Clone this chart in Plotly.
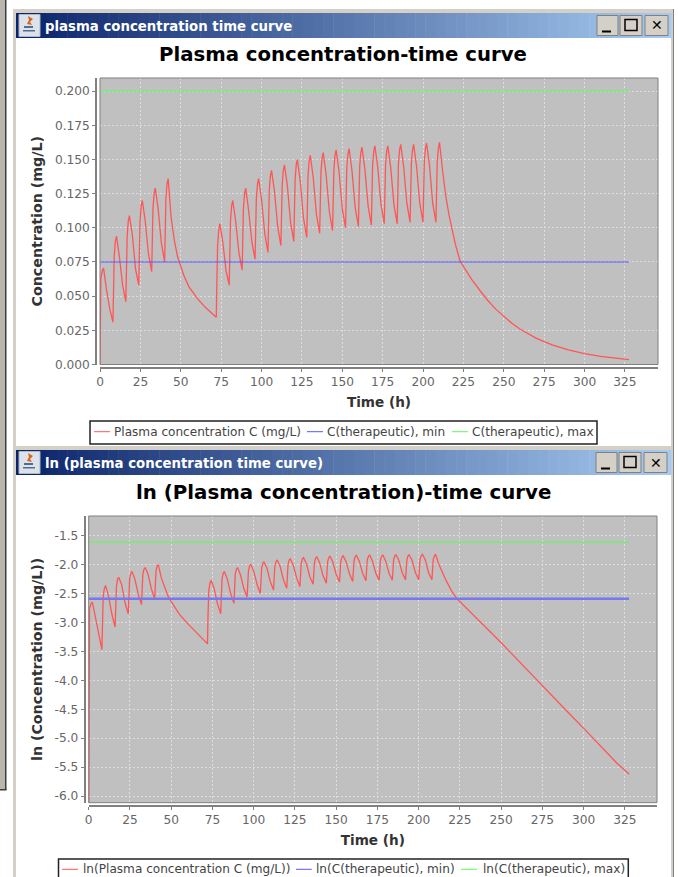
import plotly.graph_objects as go

# ---------- data ----------
time_h = [
    0, 0.1, 0.5, 1.5, 2.2, 4, 6,
    8, 8.3, 8.8, 9.5, 10.2, 12, 14,
    16, 16.3, 16.8, 17.5, 18.2, 20, 22,
    24, 24.3, 24.8, 25.5, 26.2, 28, 30,
    32, 32.3, 32.8, 33.5, 34.2, 36, 38,
    40, 40.3, 40.8, 41.5, 42.2, 44, 46,
    48, 50, 52, 55, 60, 65, 72,
    72.3, 72.8, 73.5, 74.2, 76, 78,
    80, 80.3, 80.8, 81.5, 82.2, 84, 86,
    88, 88.3, 88.8, 89.5, 90.2, 92, 94,
    96, 96.3, 96.8, 97.5, 98.2, 100, 102,
    104, 104.3, 104.8, 105.5, 106.2, 108, 110,
    112, 112.3, 112.8, 113.5, 114.2, 116, 118,
    120, 120.3, 120.8, 121.5, 122.2, 124, 126,
    128, 128.3, 128.8, 129.5, 130.2, 132, 134,
    136, 136.3, 136.8, 137.5, 138.2, 140, 142,
    144, 144.3, 144.8, 145.5, 146.2, 148, 150,
    152, 152.3, 152.8, 153.5, 154.2, 156, 158,
    160, 160.3, 160.8, 161.5, 162.2, 164, 166,
    168, 168.3, 168.8, 169.5, 170.2, 172, 174,
    176, 176.3, 176.8, 177.5, 178.2, 180, 182,
    184, 184.3, 184.8, 185.5, 186.2, 188, 190,
    192, 192.3, 192.8, 193.5, 194.2, 196, 198,
    200, 200.3, 200.8, 201.5, 202.2, 204, 206,
    208, 208.3, 208.8, 209.5, 210.2, 212, 214, 216, 218, 220, 223, 226, 230,
    235, 240, 245, 250, 255, 260, 265, 270, 275, 280, 290, 300, 310, 320, 327.5,
]
concentration = [
    0, .044, .063, .069, .0705, .055, .041,
    .031, .045, .079, .090, .094, .079, .058,
    .046, .065, .093, .105, .109, .095, .070,
    .058, .077, .105, .116, .120, .105, .081,
    .068, .086, .114, .125, .129, .114, .089,
    .075, .093, .121, .132, .136, .108, .091,
    .079, .0715, .065, .057, .0487, .042, .0345,
    .056, .087, .098, .103, .090, .069,
    .058, .077, .105, .116, .120, .105, .082,
    .069, .087, .114, .125, .129, .113, .090,
    .077, .095, .121, .132, .136, .121, .096,
    .082, .100, .127, .138, .142, .127, .101,
    .087, .105, .131, .142, .146, .131, .104,
    .090, .108, .135, .146, .150, .134, .107,
    .093, .111, .138, .149, .153, .137, .110,
    .096, .114, .140, .151, .155, .139, .112,
    .098, .116, .142, .153, .157, .141, .114,
    .100, .117, .144, .154, .158, .142, .115,
    .101, .118, .145, .155, .159, .143, .116,
    .102, .119, .146, .156, .160, .144, .117,
    .103, .120, .146, .156, .160, .144, .117,
    .103, .120, .147, .157, .161, .145, .118,
    .104, .121, .147, .157, .161, .145, .118,
    .104, .121, .148, .158, .162, .146, .118,
    .104, .121, .148, .158, .1625, .143, .124, .110, .0985, .088, .0755, .0695, .0625,
    .0545, .047, .0405, .0352, .0302, .026, .0224, .0193, .0167, .0144, .0107, .008, .0059, .0044, .0036,
]
ln_concentration = [
    -7.0, -3.12, -2.76, -2.67, -2.65, -2.90, -3.19,
    -3.47, -3.10, -2.54, -2.41, -2.36, -2.54, -2.85,
    -3.08, -2.73, -2.38, -2.25, -2.22, -2.35, -2.66,
    -2.85, -2.56, -2.25, -2.15, -2.12, -2.25, -2.51,
    -2.69, -2.45, -2.17, -2.08, -2.05, -2.17, -2.42,
    -2.59, -2.38, -2.11, -2.02, -2.00, -2.23, -2.40,
    -2.54, -2.64, -2.73, -2.86, -3.02, -3.17, -3.37,
    -2.88, -2.44, -2.32, -2.27, -2.41, -2.67,
    -2.85, -2.56, -2.25, -2.15, -2.12, -2.25, -2.50,
    -2.67, -2.44, -2.17, -2.08, -2.05, -2.18, -2.41,
    -2.56, -2.35, -2.11, -2.02, -2.00, -2.11, -2.34,
    -2.50, -2.30, -2.06, -1.98, -1.95, -2.06, -2.29,
    -2.44, -2.25, -2.03, -1.95, -1.92, -2.03, -2.26,
    -2.41, -2.23, -2.00, -1.92, -1.90, -2.01, -2.23,
    -2.38, -2.20, -1.98, -1.90, -1.88, -1.99, -2.21,
    -2.34, -2.17, -1.97, -1.89, -1.86, -1.97, -2.19,
    -2.32, -2.15, -1.95, -1.88, -1.85, -1.96, -2.17,
    -2.30, -2.15, -1.94, -1.87, -1.85, -1.95, -2.16,
    -2.29, -2.14, -1.93, -1.86, -1.84, -1.94, -2.15,
    -2.28, -2.13, -1.92, -1.86, -1.83, -1.94, -2.15,
    -2.27, -2.12, -1.92, -1.86, -1.83, -1.94, -2.15,
    -2.27, -2.12, -1.92, -1.85, -1.83, -1.93, -2.14,
    -2.26, -2.11, -1.92, -1.85, -1.83, -1.93, -2.14,
    -2.26, -2.11, -1.91, -1.85, -1.82, -1.92, -2.14,
    -2.26, -2.11, -1.91, -1.85, -1.82, -1.98, -2.12, -2.24, -2.35, -2.46, -2.585, -2.67, -2.77,
    -2.91, -3.06, -3.21, -3.35, -3.50, -3.65, -3.80, -3.95, -4.09, -4.24, -4.54, -4.83, -5.13, -5.43, -5.62,
]
therapeutic_time = [0, 327.5]
c_min = [0.075, 0.075]
c_max = [0.200, 0.200]
ln_c_min = [-2.59, -2.59]
ln_c_max = [-1.61, -1.61]

x_ticks = [0, 25, 50, 75, 100, 125, 150, 175, 200, 225, 250, 275, 300, 325]
c_ticks = [0, 0.025, 0.05, 0.075, 0.1, 0.125, 0.15, 0.175, 0.2]
c_tick_labels = ["0.000", "0.025", "0.050", "0.075", "0.100", "0.125", "0.150", "0.175", "0.200"]
ln_ticks = [-6, -5.5, -5, -4.5, -4, -3.5, -3, -2.5, -2, -1.5]
ln_tick_labels = ["-6.0", "-5.5", "-5.0", "-4.5", "-4.0", "-3.5", "-3.0", "-2.5", "-2.0", "-1.5"]

# ---------- page geometry ----------
W, H = 678, 877
RED, BLUE, GREEN = "#FF5555", "#5555FF", "#55FF55"
FONT = "DejaVu Sans"
TICK = "#666666"


def px(x):
    return x / W


def py(y):
    return 1 - y / H


shapes, annotations = [], []


def rect(x0, y0, x1, y1, fill, line=None, lw=0, layer="below"):
    shapes.append(dict(type="rect", xref="paper", yref="paper", x0=px(x0), x1=px(x1), y0=py(y0), y1=py(y1),
                       fillcolor=fill, line=dict(color=line or fill, width=lw), layer=layer))


def path(points, fill):
    d = "M" + " L".join(f"{px(a):.5f},{py(b):.5f}" for a, b in points) + " Z"
    shapes.append(dict(type="path", xref="paper", yref="paper", path=d, fillcolor=fill, line=dict(width=0), layer="below"))


def label(x, y, text, size, color="#000000", bold=True, anchor="left", family=FONT):
    annotations.append(dict(xref="paper", yref="paper", x=px(x), y=py(y), text=f"<b>{text}</b>" if bold else text,
                            showarrow=False, xanchor=anchor, yanchor="middle", borderpad=0,
                            font=dict(family=family, size=size, color=color)))


def window(top, bar_top, bar_bottom, bottom, name, shift):
    rect(13, top, 16, bottom, "#D4D0C8")
    rect(671, top, 673, bottom, "#D4D0C8")
    rect(673, top, 674, bottom, "#808080")
    rect(13, top, 673, bar_top, "#D4D0C8")
    n = 64
    c0, c1 = (10, 36, 106), (166, 202, 240)
    for i in range(n):
        f = i / (n - 1)
        col = "rgb(%d,%d,%d)" % tuple(round(a + (b - a) * f) for a, b in zip(c0, c1))
        x0 = 16 + (671 - 16) * i / n
        rect(x0, bar_top, x0 + (671 - 16) / n + 0.5, bar_bottom, col)
    rect(19, bar_top + 1.5, 40, bar_bottom - 1.5, "#DCE2E8", "#AEB8C4", 1)
    mid = bar_top + 12
    path([(28, mid - 9), (33, mid - 6), (30, mid - 3), (32, mid), (27, mid - 1), (29, mid - 5)], "#D8641E")
    rect(24, mid + 1, 33, mid + 3, "#4F6F92")
    rect(23, mid + 5, 35, mid + 6.5, "#4F6F92")
    label(44, (bar_top + bar_bottom) / 2 + 0.5, name, 13.3, "#FFFFFF")
    for b0, b1 in ((597 - shift, 618 - shift), (620 - shift, 642 - shift), (645 - shift, 668 - shift)):
        rect(b0, bar_top + 2.5, b1, bar_bottom - 2.5, "#D4D0C8", "#808080", 1)
    by = bar_top + 2.5
    rect(602 - shift, by + 15, 611 - shift, by + 17, "#000000")
    rect(625 - shift, by + 4, 637 - shift, by + 15, "rgba(0,0,0,0)", "#000000", 1.5)
    label(656.5 - shift, by + 10, "✕", 14, "#000000", anchor="center")


def legend(x0, y0, x1, y1, key_y, items):
    rect(x0, y0, x1, y1, "#FFFFFF", "#222222", 1.5, layer="above")
    for key0, key1, color, text_x, text in items:
        rect(key0, key_y - 0.5, key1, key_y + 0.5, color, layer="above")
        label(text_x, key_y, text, 12.1, "#444444", bold=False)


# screen behind the windows, left edge
rect(0, 0, 5, 790, "#B9B6AD")
rect(5, 0, 6.5, 790, "#3C3C3C")
rect(0, 789, 6.5, 790.5, "#3C3C3C")

window(9, 13, 38, 450, "plasma concentration time curve", 0)
window(446, 450, 475, H, "ln (plasma concentration time curve)", 1)

for box in ((100, 78, 658, 364.5), (88.7, 516, 657, 802.7)):
    rect(*box, "rgba(0,0,0,0)", "#808080", 1, layer="above")

label(343.5, 54, "Plasma concentration-time curve", 19.7, anchor="center")
label(343, 492, "ln (Plasma concentration)-time curve", 19.8, anchor="center")

legend(90, 421, 597, 444, 431.7, [
    (94, 110, RED, 113, "Plasma concentration C (mg/L)"),
    (307, 323, BLUE, 326, "C(therapeutic), min"),
    (452, 468, GREEN, 471, "C(therapeutic), max"),
])
legend(58.5, 859, 628.3, 885, 869.3, [
    (62, 78, RED, 81.7, "ln(Plasma concentration C (mg/L))"),
    (296, 311.7, BLUE, 315, "ln(C(therapeutic), min)"),
    (461, 477, GREEN, 481.7, "ln(C(therapeutic), max)"),
])

fig = go.Figure()
fig.add_trace(go.Scatter(x=time_h, y=concentration, mode="lines", name="Plasma concentration C (mg/L)",
                         line=dict(color=RED, width=1.3)))
fig.add_trace(go.Scatter(x=therapeutic_time, y=c_min, mode="lines", name="C(therapeutic), min",
                         line=dict(color=BLUE, width=1)))
fig.add_trace(go.Scatter(x=therapeutic_time, y=c_max, mode="lines", name="C(therapeutic), max",
                         line=dict(color=GREEN, width=1)))
fig.add_trace(go.Scatter(x=time_h, y=ln_concentration, mode="lines", name="ln(Plasma concentration C (mg/L))",
                         line=dict(color=RED, width=1.3), xaxis="x2", yaxis="y2"))
fig.add_trace(go.Scatter(x=therapeutic_time, y=ln_c_min, mode="lines", name="ln(C(therapeutic), min)",
                         line=dict(color="#7777EE", width=2.4), xaxis="x2", yaxis="y2"))
fig.add_trace(go.Scatter(x=therapeutic_time, y=ln_c_max, mode="lines", name="ln(C(therapeutic), max)",
                         line=dict(color=GREEN, width=1), xaxis="x2", yaxis="y2"))

common = dict(showgrid=True, gridcolor="#DEDEDE", griddash="2px,2px", gridwidth=1, zeroline=False,
              showline=True, linecolor="#808080", linewidth=1.5, ticks="outside", ticklen=3, tickcolor="#808080",
              tickfont=dict(family=FONT, size=12.2, color=TICK), anchor="free")
x_title_font = dict(family=FONT, size=13.6, color="#333333")
y_title_font = dict(family=FONT, size=14.2, color="#333333")

fig.update_layout(
    width=W, height=H, margin=dict(l=0, r=0, t=0, b=0, autoexpand=False), paper_bgcolor="#FFFFFF",
    plot_bgcolor="#C0C0C0", shapes=shapes, annotations=annotations, hovermode=False, dragmode=False,
    showlegend=False,
    xaxis=dict(common, domain=[px(100), px(658)], range=[0, 345.5], tickvals=x_ticks, position=py(368),
               title=dict(text="<b>Time (h)</b>", font=x_title_font, standoff=8)),
    yaxis=dict(common, domain=[py(364.5), py(78)], range=[0, 0.2096], tickvals=c_ticks, ticktext=c_tick_labels,
               position=px(96), title=dict(text="<b>Concentration (mg/L)</b>", font=y_title_font, standoff=8)),
    xaxis2=dict(common, domain=[px(88.7), px(657)], range=[0, 344.4], tickvals=x_ticks, position=py(806),
                title=dict(text="<b>Time (h)</b>", font=x_title_font, standoff=8)),
    yaxis2=dict(common, domain=[py(802.7), py(516)], range=[-6.115, -1.16], tickvals=ln_ticks, ticktext=ln_tick_labels,
                position=px(84.5), title=dict(text="<b>ln (Concentration (mg/L))</b>", font=y_title_font, standoff=8)),
)

fig.write_html("out.html", config=dict(displayModeBar=False),
               post_script="document.body.style.margin='0';document.documentElement.style.overflow='hidden';")
